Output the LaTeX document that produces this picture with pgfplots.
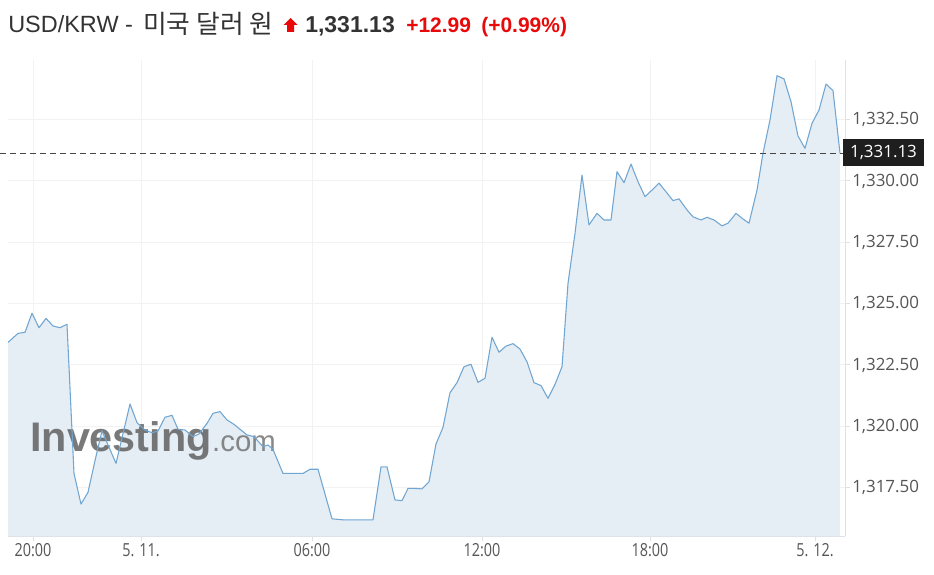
\documentclass[border=0pt]{standalone}
\usepackage{pgfplots}
\pgfplotsset{compat=1.18}
\usepackage{fontspec}
\setmainfont{Liberation Sans}
\newfontfamily\opensans{Open Sans}
\newfontfamily\kr{Noto Sans CJK KR}
\definecolor{lineblue}{RGB}{112,166,209}
\definecolor{fillblue}{RGB}{229,237,245}
\definecolor{gridgray}{RGB}{242,242,242}
\definecolor{axisgray}{RGB}{222,226,232}
\definecolor{labgray}{RGB}{85,85,85}
\definecolor{titlegray}{RGB}{51,51,51}
\definecolor{upred}{RGB}{232,10,10}
\definecolor{dashgray}{RGB}{70,70,70}
\definecolor{boxblack}{RGB}{30,30,30}
\begin{document}
\begin{tikzpicture}
\useasboundingbox (0,0) rectangle (700.5pt,-430.5pt);
\begin{axis}[
  at={(6pt,-402pt)}, anchor=south west,
  scale only axis, width=627.75pt, height=357pt,
  xmin=8, xmax=845, ymin=1315.53, ymax=1334.93,
  axis x line*=bottom, axis y line*=right,
  axis line style={draw=axisgray, line width=0.75pt},
  xtick={33,141,312,482,650,815},
  xticklabels={\scalebox{0.8}[1]{20:00},\scalebox{0.8}[1]{5. 11.},\scalebox{0.8}[1]{06:00},\scalebox{0.8}[1]{12:00},\scalebox{0.8}[1]{18:00},\scalebox{0.8}[1]{5. 12.}},
  ytick={1317.5,1320,1322.5,1325,1327.5,1330,1332.5},
  yticklabels={{1,317.50},{1,320.00},{1,322.50},{1,325.00},{1,327.50},{1,330.00},{1,332.50}},
  grid=major, major grid style={draw=gridgray, line width=0.75pt},
  tick style={draw=axisgray, line width=0.75pt},
  tick align=outside, major tick length=3.75pt,
  clip=false,
  ticklabel style={text=labgray},
  yticklabel style={font=\opensans\fontsize{12.7pt}{14pt}\selectfont, inner xsep=1.5pt},
  xticklabel style={font=\opensans\fontsize{13.5pt}{15pt}\selectfont, inner ysep=2pt},
]
\addplot[draw=none, fill=fillblue] coordinates {
(8,1315.53)
(8,1323.42) (18,1323.79) (25,1323.83) (32,1324.61) (39,1324.02) (46,1324.40) (53,1324.09) (60,1324.02) (67,1324.16)
(74,1318.08) (81,1316.83) (88,1317.31) (95,1318.60) (102,1319.82) (109,1319.15) (116,1318.49) (123,1319.70) (130,1320.91)
(137,1320.15) (145,1319.85) (152,1319.74) (158,1319.81) (165,1320.37) (172,1320.45) (178,1319.88) (185,1319.85)
(193,1319.58) (199,1319.69) (207,1320.12) (213,1320.53) (220,1320.60) (227,1320.26) (234,1320.08) (240,1319.88)
(247,1319.65) (254,1319.58) (263,1319.17) (268,1319.24) (273,1319.06) (283,1318.08) (290,1318.08) (297,1318.08)
(303,1318.08) (310,1318.25) (318,1318.25) (325,1317.24) (332,1316.23) (343,1316.19) (350,1316.19) (357,1316.19)
(366,1316.19) (373,1316.19) (381,1318.35) (387,1318.35) (395,1317.00) (402,1316.97) (408,1317.47) (415,1317.47)
(422,1317.45) (429,1317.74) (436,1319.28) (443,1319.96) (450,1321.37) (457,1321.78) (464,1322.43) (471,1322.53)
(478,1321.79) (485,1321.96) (492,1323.63) (499,1323.02) (506,1323.27) (513,1323.37) (520,1323.15) (527,1322.63)
(534,1321.78) (541,1321.66) (548,1321.14) (555,1321.71) (562,1322.43) (568,1325.83) (575,1327.87) (582,1330.24)
(589,1328.21) (597,1328.68) (604,1328.41) (611,1328.41) (617,1330.38) (624,1329.93) (631,1330.69) (638,1329.97)
(645,1329.36) (652,1329.63) (659,1329.91) (666,1329.56) (673,1329.20) (679,1329.27) (687,1328.82) (693,1328.54)
(701,1328.41) (707,1328.52) (714,1328.41) (722,1328.17) (728,1328.28) (736,1328.68) (743,1328.45) (749,1328.28)
(757,1329.63) (763,1331.13) (770,1332.49) (777,1334.29) (784,1334.16) (791,1333.23) (798,1331.83) (805,1331.33)
(812,1332.35) (819,1332.89) (826,1333.95) (833,1333.68) (840,1331.13)
(840,1315.53)
};
\node[anchor=base west, inner sep=0, text=black!62, opacity=0.85, font=\bfseries\fontsize{31pt}{34pt}\selectfont] (wm) at (axis cs:30,1318.99) {Investing};
\node[anchor=base west, inner sep=0, text=black!58, opacity=0.8, font=\fontsize{22pt}{24pt}\selectfont] at (wm.base east) {.com};
\addplot[draw=lineblue, line width=0.8pt, line join=round] coordinates {
(8,1323.42) (18,1323.79) (25,1323.83) (32,1324.61) (39,1324.02) (46,1324.40) (53,1324.09) (60,1324.02) (67,1324.16)
(74,1318.08) (81,1316.83) (88,1317.31) (95,1318.60) (102,1319.82) (109,1319.15) (116,1318.49) (123,1319.70) (130,1320.91)
(137,1320.15) (145,1319.85) (152,1319.74) (158,1319.81) (165,1320.37) (172,1320.45) (178,1319.88) (185,1319.85)
(193,1319.58) (199,1319.69) (207,1320.12) (213,1320.53) (220,1320.60) (227,1320.26) (234,1320.08) (240,1319.88)
(247,1319.65) (254,1319.58) (263,1319.17) (268,1319.24) (273,1319.06) (283,1318.08) (290,1318.08) (297,1318.08)
(303,1318.08) (310,1318.25) (318,1318.25) (325,1317.24) (332,1316.23) (343,1316.19) (350,1316.19) (357,1316.19)
(366,1316.19) (373,1316.19) (381,1318.35) (387,1318.35) (395,1317.00) (402,1316.97) (408,1317.47) (415,1317.47)
(422,1317.45) (429,1317.74) (436,1319.28) (443,1319.96) (450,1321.37) (457,1321.78) (464,1322.43) (471,1322.53)
(478,1321.79) (485,1321.96) (492,1323.63) (499,1323.02) (506,1323.27) (513,1323.37) (520,1323.15) (527,1322.63)
(534,1321.78) (541,1321.66) (548,1321.14) (555,1321.71) (562,1322.43) (568,1325.83) (575,1327.87) (582,1330.24)
(589,1328.21) (597,1328.68) (604,1328.41) (611,1328.41) (617,1330.38) (624,1329.93) (631,1330.69) (638,1329.97)
(645,1329.36) (652,1329.63) (659,1329.91) (666,1329.56) (673,1329.20) (679,1329.27) (687,1328.82) (693,1328.54)
(701,1328.41) (707,1328.52) (714,1328.41) (722,1328.17) (728,1328.28) (736,1328.68) (743,1328.45) (749,1328.28)
(757,1329.63) (763,1331.13) (770,1332.49) (777,1334.29) (784,1334.16) (791,1333.23) (798,1331.83) (805,1331.33)
(812,1332.35) (819,1332.89) (826,1333.95) (833,1333.68) (840,1331.13)
};
\addplot[draw=dashgray, line width=0.9pt, dash pattern=on 4.5pt off 3pt] coordinates {(0,1331.13) (843,1331.13)};
\end{axis}
\begin{scope}[x=0.75pt,y=-0.75pt]
\node[anchor=base west, inner sep=0, text=titlegray, font=\fontsize{17.6pt}{20pt}\selectfont] at (8,33) {USD/KRW -};
\node[anchor=base west, inner sep=0, text=titlegray, font=\kr\fontsize{19.3pt}{22pt}\selectfont] at (143,34) {미국 달러 원};
\fill[upred] (283.5,25) -- (290.5,18) -- (297.5,25) -- (294,25) -- (294,32) -- (287,32) -- (287,25) -- cycle;
\node[anchor=base west, inner sep=0, text=titlegray, font=\bfseries\fontsize{17.25pt}{20pt}\selectfont] at (305,33) {1,331.13};
\node[anchor=base west, inner sep=0, text=upred, font=\bfseries\fontsize{15.75pt}{18pt}\selectfont] at (406,33) {+12.99};
\node[anchor=base west, inner sep=0, text=upred, font=\bfseries\fontsize{15.75pt}{18pt}\selectfont] at (481,33) {(+0.99\%)};
\fill[boxblack] (843,139) rectangle (924,166);
\node[text=white, inner sep=0, font=\opensans\fontsize{12.7pt}{14pt}\selectfont] at (883.5,152.5) {1,331.13};
\end{scope}
\end{tikzpicture}
\end{document}
